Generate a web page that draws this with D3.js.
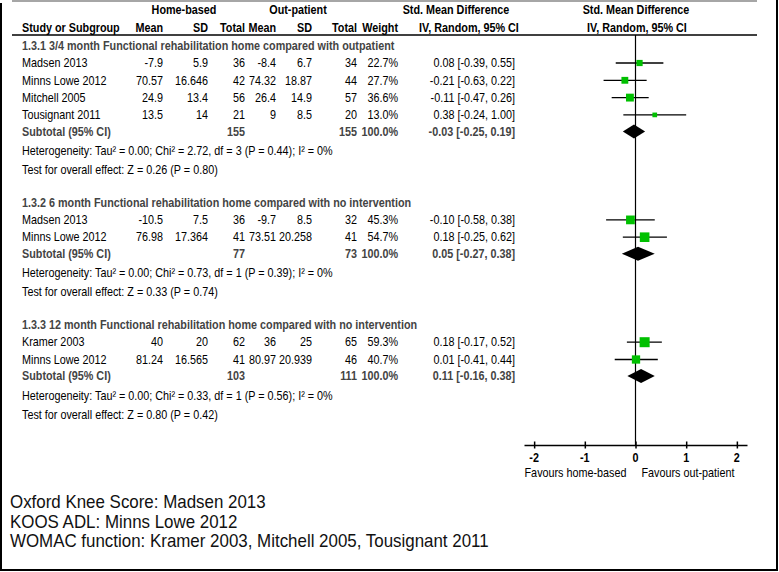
<!DOCTYPE html>
<html>
<head>
<meta charset="utf-8">
<script src="https://cdn.jsdelivr.net/npm/d3@7"></script>
<style>
  html, body { margin: 0; padding: 0; background: #fff; }
  svg { display: block; font-family: "Liberation Sans", Arial, Helvetica, sans-serif; }
</style>
</head>
<body>
<script>
// ---------------- DATA ----------------
const groupTitles = [
  "1.3.1 3/4 month Functional rehabilitation home compared with outpatient",
  "1.3.2 6 month Functional rehabilitation home compared with no intervention",
  "1.3.3 12 month Functional rehabilitation home compared with no intervention"
];
const studies     = ["Madsen 2013", "Minns Lowe 2012", "Mitchell 2005", "Tousignant 2011",
                     "Madsen 2013", "Minns Lowe 2012", "Kramer 2003", "Minns Lowe 2012"];
const studyGroup  = [0, 0, 0, 0, 1, 1, 2, 2];
const homeMean    = [-7.9, 70.57, 24.9, 13.5, -10.5, 76.98, 40, 81.24];
const homeSD      = [5.9, 16.646, 13.4, 14, 7.5, 17.364, 20, 16.565];
const homeTotal   = [36, 42, 56, 21, 36, 41, 62, 41];
const outMean     = [-8.4, 74.32, 26.4, 9, -9.7, 73.51, 36, 80.97];
const outSD       = [6.7, 18.87, 14.9, 8.5, 8.5, 20.258, 25, 20.939];
const outTotal    = [34, 44, 57, 20, 32, 41, 65, 46];
const weight      = [22.7, 27.7, 36.6, 13.0, 45.3, 54.7, 59.3, 40.7];
const smd         = [0.08, -0.21, -0.11, 0.38, -0.10, 0.18, 0.18, 0.01];
const smdLo       = [-0.39, -0.63, -0.47, -0.24, -0.58, -0.25, -0.17, -0.41];
const smdHi       = [0.55, 0.22, 0.26, 1.00, 0.38, 0.62, 0.52, 0.44];

const subHomeTotal = [155, 77, 103];
const subOutTotal  = [155, 73, 111];
const subSmd       = [-0.03, 0.05, 0.11];
const subLo        = [-0.25, -0.27, -0.16];
const subHi        = [0.19, 0.38, 0.38];
const hetTau2      = ["0.00", "0.00", "0.00"];
const hetChi2      = ["2.72", "0.73", "0.33"];
const hetDf        = [3, 1, 1];
const hetP         = ["0.44", "0.39", "0.56"];
const hetI2        = ["0", "0", "0"];
const testZ        = ["0.26", "0.33", "0.80"];
const testP        = ["0.80", "0.74", "0.42"];

const axisTicks    = [-2, -1, 0, 1, 2];
const favoursLeft  = "Favours home-based";
const favoursRight = "Favours out-patient";
const footnotes    = [
  "Oxford Knee Score: Madsen 2013",
  "KOOS ADL: Minns Lowe 2012",
  "WOMAC function: Kramer 2003, Mitchell 2005, Tousignant 2011"
];

// ---------------- LAYOUT ----------------
const W = 779, H = 572;
const SX = 0.9;           // horizontal text compression of the table
const FS = 12;            // table font size
const TXT = "#000", GREY = "#444";

const col = { name: 22, hMean: 163, hSD: 208, hTot: 245, oMean: 276, oSD: 312, oTot: 357, wt: 398, eff: 515 };

const svg = d3.select("body").append("svg").attr("width", W).attr("height", H);

function text(x, y, s, o = {}) {
  return svg.append("text")
    .attr("transform", `translate(${x},${y}) scale(${o.sx || SX},1)`)
    .attr("dy", "0.35em")
    .attr("text-anchor", o.anchor || "start")
    .style("font-size", (o.size || FS) + "px")
    .style("font-weight", o.bold ? "bold" : "normal")
    .style("fill", o.color || TXT)
    .text(s);
}

// border
svg.append("line").attr("x1", 1).attr("x2", 1).attr("y1", 3).attr("y2", 571).attr("stroke", "#000").attr("stroke-width", 2);
svg.append("line").attr("x1", 777).attr("x2", 777).attr("y1", 0).attr("y2", 571).attr("stroke", "#000").attr("stroke-width", 2);
svg.append("line").attr("x1", 0).attr("x2", 778).attr("y1", 570).attr("y2", 570).attr("stroke", "#000").attr("stroke-width", 2);
svg.append("line").attr("x1", 12).attr("x2", 757).attr("y1", 1).attr("y2", 1).attr("stroke", "#888").attr("stroke-width", 1.5);

// x scale for forest plot
const x = d3.scaleLinear().domain([-2.2, 2.2]).range([524, 747]);
const sq = d3.scaleSqrt().domain([0, 100]).range([0, 13]);

// header
const yH1 = 10, yH2 = 28, yRule = 35;
text(184, yH1, "Home-based", { anchor: "middle", bold: true });
text(298, yH1, "Out-patient", { anchor: "middle", bold: true });
text(456, yH1, "Std. Mean Difference", { anchor: "middle", bold: true });
text(636, yH1, "Std. Mean Difference", { anchor: "middle", bold: true });
text(col.name, yH2, "Study or Subgroup", { bold: true });
[["hMean", "Mean"], ["hSD", "SD"], ["hTot", "Total"], ["oMean", "Mean"], ["oSD", "SD"], ["oTot", "Total"], ["wt", "Weight"]]
  .forEach(([k, s]) => text(col[k], yH2, s, { anchor: "end", bold: true }));
text(469, yH2, "IV, Random, 95% CI", { anchor: "middle", bold: true });
text(637, yH2, "IV, Random, 95% CI", { anchor: "middle", bold: true });
svg.append("line").attr("x1", 12).attr("x2", 757).attr("y1", yRule).attr("y2", yRule).attr("stroke", "#000").attr("stroke-width", 1.5);

// rows layout
const gapTitle = 32.5, gapFirst = 17.5, gapStudy = 17.3, gapSub = 16.5, gapHet = 19.5, gapTest = 19;
const rows = [];
let y = 45.5;
groupTitles.forEach((t, gi) => {
  if (gi > 0) y += gapTitle;
  rows.push({ type: "title", gi, y });
  const idx = studyGroup.map((g, i) => g === gi ? i : -1).filter(i => i >= 0);
  idx.forEach((si, k) => { y += k === 0 ? gapFirst : gapStudy; rows.push({ type: "study", gi, si, y }); });
  y += gapSub; rows.push({ type: "sub", gi, y });
  y += gapHet; rows.push({ type: "het", gi, y });
  y += gapTest; rows.push({ type: "test", gi, y });
});
const yAxis = 445;

// zero line
svg.append("line").attr("x1", x(0)).attr("x2", x(0)).attr("y1", yRule).attr("y2", yAxis).attr("stroke", "#000").attr("stroke-width", 1.2);

const f2 = v => v.toFixed(2);
const ci = (e, l, h) => `${f2(e)} [${f2(l)}, ${f2(h)}]`;

rows.forEach(r => {
  if (r.type === "title") {
    text(col.name, r.y, groupTitles[r.gi], { bold: true, color: GREY });
  } else if (r.type === "study") {
    const i = r.si;
    text(col.name, r.y, studies[i]);
    text(col.hMean, r.y, String(homeMean[i]), { anchor: "end" });
    text(col.hSD, r.y, String(homeSD[i]), { anchor: "end" });
    text(col.hTot, r.y, String(homeTotal[i]), { anchor: "end" });
    text(col.oMean, r.y, String(outMean[i]), { anchor: "end" });
    text(col.oSD, r.y, String(outSD[i]), { anchor: "end" });
    text(col.oTot, r.y, String(outTotal[i]), { anchor: "end" });
    text(col.wt, r.y, weight[i].toFixed(1) + "%", { anchor: "end" });
    text(col.eff, r.y, ci(smd[i], smdLo[i], smdHi[i]), { anchor: "end" });
    svg.append("line").attr("x1", x(smdLo[i])).attr("x2", x(smdHi[i])).attr("y1", r.y).attr("y2", r.y)
      .attr("stroke", "#000").attr("stroke-width", 1.3);
    const s = sq(weight[i]);
    svg.append("rect").attr("x", x(smd[i]) - s / 2).attr("y", r.y - s / 2).attr("width", s).attr("height", s)
      .attr("fill", "#00c000");
  } else if (r.type === "sub") {
    const g = r.gi;
    text(col.name, r.y, "Subtotal (95% CI)", { bold: true, color: GREY });
    text(col.hTot, r.y, String(subHomeTotal[g]), { anchor: "end", bold: true, color: GREY });
    text(col.oTot, r.y, String(subOutTotal[g]), { anchor: "end", bold: true, color: GREY });
    text(col.wt, r.y, "100.0%", { anchor: "end", bold: true, color: GREY });
    text(col.eff, r.y, ci(subSmd[g], subLo[g], subHi[g]), { anchor: "end", bold: true, color: GREY });
    const pts = [[x(subLo[g]), r.y], [x(subSmd[g]), r.y - 7], [x(subHi[g]), r.y], [x(subSmd[g]), r.y + 7]];
    svg.append("polygon").attr("points", pts.map(p => p.join(",")).join(" ")).attr("fill", "#000");
  } else if (r.type === "het") {
    const g = r.gi;
    text(col.name, r.y, `Heterogeneity: Tau² = ${hetTau2[g]}; Chi² = ${hetChi2[g]}, df = ${hetDf[g]} (P = ${hetP[g]}); I² = ${hetI2[g]}%`);
  } else if (r.type === "test") {
    const g = r.gi;
    text(col.name, r.y, `Test for overall effect: Z = ${testZ[g]} (P = ${testP[g]})`);
  }
});

// axis
const axis = d3.axisBottom(x).tickValues(axisTicks).tickSizeOuter(0).tickSizeInner(3).tickFormat(d3.format("d"));
const ag = svg.append("g").attr("transform", `translate(0,${yAxis})`).call(axis);
ag.select(".domain").attr("stroke", "#000").attr("stroke-width", 1.5);
ag.selectAll(".tick line").attr("y1", -3.5).attr("y2", 3.5).attr("stroke", "#000").attr("stroke-width", 1.5);
ag.selectAll(".tick text").remove();
axisTicks.forEach(t => text(x(t), 458, t < 0 ? "-" + Math.abs(t) : String(t), { anchor: "middle", bold: true, size: 12 }));
text(x(0) - 9, 473, favoursLeft, { anchor: "end" });
text(x(0) + 6, 473, favoursRight, { anchor: "start" });

// footnotes
footnotes.forEach((s, i) => text(10, 502 + i * 19.5, s, { size: 18, sx: 0.94, color: "#111" }));
</script>
</body>
</html>
